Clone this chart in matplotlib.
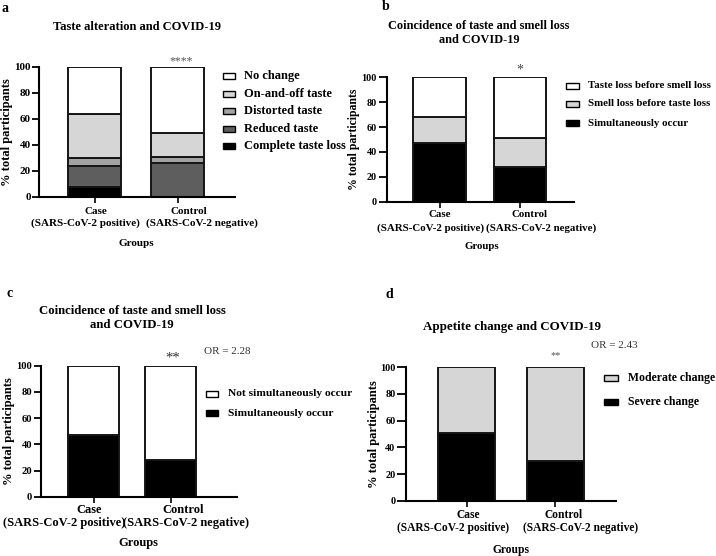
import matplotlib
matplotlib.use("Agg")
import matplotlib.pyplot as plt
from matplotlib.patches import Rectangle

plt.rcParams['font.family'] = ['Liberation Serif', 'DejaVu Serif']
plt.rcParams['font.weight'] = 'bold'

group_names = ["Case", "Control"]
group_subs = ["(SARS-CoV-2 positive)", "(SARS-CoV-2 negative)"]
y_ticks = [0, 20, 40, 60, 80, 100]

# Panel a
a_labels = ["Complete taste loss", "Reduced taste", "Distorted taste", "On-and-off taste", "No change"]
a_case = [8, 16, 6, 34, 36]
a_control = [0, 26, 5, 18, 51]
a_colors = ["#000000", "#5e5e5e", "#a3a3a3", "#d6d6d6", "#ffffff"]

# Panel b
b_labels = ["Simultaneously occur", "Smell loss before taste loss", "Taste loss before smell loss"]
b_case = [47, 21, 32]
b_control = [28, 23, 49]
b_colors = ["#000000", "#d6d6d6", "#ffffff"]

# Panel c
c_labels = ["Simultaneously occur", "Not simultaneously occur"]
c_case = [47, 53]
c_control = [28, 72]
c_colors = ["#000000", "#ffffff"]

# Panel d
d_labels = ["Severe change", "Moderate change"]
d_case = [51, 49]
d_control = [30, 70]
d_colors = ["#000000", "#d6d6d6"]

W, H = 716, 556
fig = plt.figure(figsize=(W / 100, H / 100), dpi=100)


def rect(l, r, t, b):
    return [l / W, 1 - b / H, (r - l) / W, (b - t) / H]


def fx(px):
    return px / W


def fy(py):
    return 1 - py / H


def panel(box, xlim, case, control, colors, labels, width, style):
    ax = fig.add_axes(box)
    x = [0, 1]
    bottoms = [0, 0]
    for i in range(len(labels)):
        vals = [case[i], control[i]]
        ax.bar(x, vals, width=width, bottom=bottoms, color=colors[i],
               edgecolor='#151515', linewidth=1.4, zorder=2)
        bottoms = [bottoms[0] + vals[0], bottoms[1] + vals[1]]
    ax.set_xlim(*xlim)
    ax.set_ylim(0, 100)
    ax.set_yticks(y_ticks)
    ax.set_xticks(x)
    ax.set_xticklabels(["", ""])
    ax.tick_params(axis='y', labelsize=style['ytick'], width=1.3, length=style['tlen'], pad=1)
    ax.tick_params(axis='x', width=1.2, length=4.5)
    for lab in ax.get_yticklabels():
        lab.set_fontweight('bold')
    for s in ['top', 'right']:
        ax.spines[s].set_visible(False)
    for s in ['left', 'bottom']:
        ax.spines[s].set_linewidth(1.5)
    ax.set_ylabel("% total participants", fontsize=style['ylab'], fontweight='bold',
                  labelpad=style['ypad'])
    # two-line group labels
    offs = style['xoff']
    dys = style['dy']
    for i in range(2):
        ax.annotate(group_names[i], xy=(x[i], 0), xycoords=('data', 'axes fraction'),
                    xytext=(offs[i][0], -dys[0]), textcoords='offset pixels',
                    ha='center', va='center', fontsize=style['xtick'], fontweight='bold',
                    annotation_clip=False)
        ax.annotate(group_subs[i], xy=(x[i], 0), xycoords=('data', 'axes fraction'),
                    xytext=(offs[i][1], -dys[1]), textcoords='offset pixels',
                    ha='center', va='center', fontsize=style['xtick'], fontweight='bold',
                    annotation_clip=False)
    ax.annotate("Groups", xy=(0.5, 0), xycoords='axes fraction',
                xytext=(style['gx'], -dys[2]), textcoords='offset pixels',
                ha='center', va='center', fontsize=style['xtick'], fontweight='bold',
                annotation_clip=False)
    # manual legend (top row = last stacked segment)
    px0, px1, tx = style['leg_x']
    rows = style['leg_rows']
    for lab, col, ry in zip(labels[::-1], colors[::-1], rows):
        fig.add_artist(Rectangle((fx(px0), fy(ry + 3)), (px1 - px0) / W, 6 / H,
                                 facecolor=col, edgecolor='black', linewidth=1.0,
                                 transform=fig.transFigure))
        fig.text(fx(tx), fy(ry), lab, fontsize=style['leg'], fontweight='bold',
                 ha='left', va='center')
    return ax


ax_a = panel(rect(39, 235, 67, 197), (-0.67, 1.69), a_case, a_control, a_colors, a_labels, 0.64,
             dict(ytick=8, tlen=5, ylab=9, ypad=1.0, xtick=8, xoff=[(1.5, -9), (11, 24)],
                  dy=(14, 26, 46), gx=-1, leg_x=(223, 235, 244),
                  leg_rows=[76, 94, 111, 129, 146], leg=9))
ax_b = panel(rect(386.5, 574, 77.3, 201.7), (-0.66, 1.67), b_case, b_control, b_colors, b_labels,
             0.65,
             dict(ytick=7.3, tlen=6, ylab=8.5, ypad=1.0, xtick=7.8, xoff=[(0, -9.5), (9, 21)],
                  dy=(13, 26, 45), gx=2, leg_x=(566, 579, 588),
                  leg_rows=[86, 104, 123], leg=7.8))
ax_c = panel(rect(40.5, 237, 365.7, 496.7), (-0.69, 1.86), c_case, c_control, c_colors, c_labels,
             0.66,
             dict(ytick=7.6, tlen=5, ylab=9, ypad=1.0, xtick=9, xoff=[(-5, -29), (12, 15)],
                  dy=(13.3, 26, 46.5), gx=0, leg_x=(206, 218, 228),
                  leg_rows=[394, 413], leg=8.2))
ax_d = panel(rect(406, 616, 367.3, 500.7), (-0.68, 1.68), d_case, d_control, d_colors, d_labels,
             0.65,
             dict(ytick=7.4, tlen=6.5, ylab=9, ypad=0.0, xtick=8.3, xoff=[(1.5, -13), (8, 25)],
                  dy=(14.3, 27, 49), gx=0, leg_x=(604, 618, 628),
                  leg_rows=[378, 402], leg=8.5))

# panel letters
for letter, (px, py) in zip("abcd", [(5.5, 8), (386, 7), (10, 293), (389.5, 295)]):
    fig.text(fx(px), fy(py), letter, fontsize=10, fontweight='bold', ha='center', va='center')

# titles
fig.text(fx(137), fy(27), "Taste alteration and COVID-19", fontsize=9, fontweight='bold',
         ha='center', va='center')
fig.text(fx(479), fy(33), "Coincidence of taste and smell loss\nand COVID-19", fontsize=8.8,
         fontweight='bold', ha='center', va='center', linespacing=1.2)
fig.text(fx(132), fy(318), "Coincidence of taste and smell loss\nand COVID-19", fontsize=9.2,
         fontweight='bold', ha='center', va='center', linespacing=1.2)
fig.text(fx(512), fy(327), "Appetite change and COVID-19", fontsize=9.4, fontweight='bold',
         ha='center', va='center')

# significance marks and odds ratios
fig.text(fx(181), fy(61), "****", fontsize=8.5, color='#555555', ha='center', va='center',
         fontweight='normal')
fig.text(fx(520), fy(70), "*", fontsize=10, color='#444444', ha='center', va='center',
         fontweight='normal')
fig.text(fx(173), fy(358), "**", fontsize=10.5, color='#333333', ha='center', va='center',
         fontweight='normal')
fig.text(fx(556), fy(356), "**", fontsize=7.5, color='#555555', ha='center', va='center',
         fontweight='normal')
fig.text(fx(204), fy(351), "OR = 2.28", fontsize=8, ha='left', va='center',
         fontweight='normal', color='#333333')
fig.text(fx(591), fy(345), "OR = 2.43", fontsize=8, ha='left', va='center',
         fontweight='normal', color='#333333')

fig.savefig("out.png", dpi=100)
